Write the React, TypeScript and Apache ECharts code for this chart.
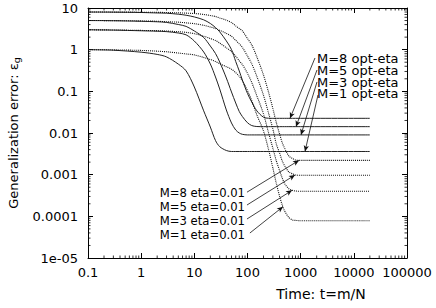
import React, { useEffect, useRef } from "react";
import * as echarts from "echarts";

// time grid shared by all curves (t = m/N)
const TIMES = [0.1, 0.3, 1, 2, 3, 5, 7, 10, 15, 20, 25, 30, 40, 50, 60, 70, 80, 100, 120, 150, 200, 250, 300, 350, 400, 450, 500, 600, 700, 800, 1000, 20000];

// optimal learning rate (solid)
const OPT_M1 = [1, 0.97, 0.87, 0.77, 0.67, 0.45, 0.31, 0.127, 0.034, 0.0139, 0.0066, 0.0047, 0.0038, 0.0036, 0.0036, 0.0036, 0.0036, 0.0036, 0.0036, 0.0036, 0.0036, 0.0036, 0.0036, 0.0036, 0.0036, 0.0036, 0.0036, 0.0036, 0.0036, 0.0036, 0.0036, 0.0036];
const OPT_M3 = [3, 2.95, 2.84, 2.77, 2.71, 2.51, 2.27, 1.61, 0.88, 0.453, 0.221, 0.114, 0.0357, 0.0174, 0.0118, 0.01, 0.0093, 0.009, 0.009, 0.009, 0.009, 0.009, 0.009, 0.009, 0.009, 0.009, 0.009, 0.009, 0.009, 0.009, 0.009, 0.009];
const OPT_M5 = [5, 4.95, 4.8, 4.67, 4.51, 4.02, 3.62, 2.81, 1.96, 1.22, 0.81, 0.506, 0.209, 0.0964, 0.0525, 0.0328, 0.0249, 0.0176, 0.0151, 0.0143, 0.0142, 0.0142, 0.0142, 0.0142, 0.0142, 0.0142, 0.0142, 0.0142, 0.0142, 0.0142, 0.0142, 0.0142];
const OPT_M8 = [8, 7.95, 7.8, 7.6, 7.5, 7.1, 6.7, 6.1, 5.2, 4.25, 3.4, 2.68, 1.62, 1.01, 0.52, 0.308, 0.187, 0.0887, 0.0555, 0.034, 0.0239, 0.0226, 0.0225, 0.0225, 0.0225, 0.0225, 0.0225, 0.0225, 0.0225, 0.0225, 0.0225, 0.0225];

// eta = 0.01 (dotted)
const ETA_M1 = [1, 0.99, 0.96, 0.92, 0.89, 0.83, 0.79, 0.75, 0.65, 0.58, 0.52, 0.46, 0.39, 0.34, 0.28, 0.23, 0.18, 0.104, 0.0603, 0.027, 0.0112, 0.0039, 0.00145, 0.0006, 0.000308, 0.000187, 0.000134, 0.0000938, 0.0000817, 0.00008, 0.0000785, 0.0000785];
const ETA_M3 = [3, 2.97, 2.9, 2.86, 2.8, 2.7, 2.6, 2.42, 2.1, 1.85, 1.66, 1.44, 1.11, 0.9, 0.7, 0.54, 0.44, 0.27, 0.164, 0.078, 0.0286, 0.0099, 0.0043, 0.0021, 0.00128, 0.00083, 0.00061, 0.00046, 0.00042, 0.000405, 0.0004, 0.0004];
const ETA_M5 = [5, 4.98, 4.9, 4.81, 4.68, 4.57, 4.4, 4.2, 3.85, 3.49, 3.23, 2.91, 2.46, 2.1, 1.68, 1.38, 1.14, 0.7, 0.46, 0.228, 0.08, 0.0294, 0.0124, 0.00535, 0.00335, 0.00214, 0.00164, 0.00116, 0.00105, 0.00098, 0.00097, 0.00097];
const ETA_M8 = [8, 7.98, 7.93, 7.87, 7.79, 7.66, 7.53, 7.37, 7.01, 6.6, 6.24, 5.78, 5.12, 4.48, 3.73, 3.21, 2.83, 1.85, 1.31, 0.667, 0.245, 0.0933, 0.0385, 0.0174, 0.0096, 0.00586, 0.0043, 0.0028, 0.00245, 0.00224, 0.0022, 0.0022];

// tick labels
const X_TICK_LABELS = ["0.1", "1", "10", "100", "1000", "10000", "100000"];
const Y_TICK_LABELS = ["1e-05", "0.0001", "0.001", "0.01", "0.1", "1", "10"];
const MINOR_STEPS = [2, 3, 4, 5, 6, 7, 8, 9];
const X_DECADES = [0.1, 1, 10, 100, 1000, 10000];
const Y_DECADES = [1e-5, 1e-4, 1e-3, 1e-2, 0.1, 1];

// annotations: labels and arrows (data coordinates)
const OPT_LABELS = ["M=8 opt-eta", "M=5 opt-eta", "M=3 opt-eta", "M=1 opt-eta"];
const OPT_ARROW_FROM = [[1858, 0.631], [2028, 0.325], [2028, 0.168], [2118, 0.0817]];
const OPT_ARROW_TO = [[630, 0.0225], [817, 0.0142], [1014, 0.009], [1206, 0.0036]];
const ETA_LABELS = ["M=8 eta=0.01", "M=5 eta=0.01", "M=3 eta=0.01", "M=1 eta=0.01"];
const ETA_ARROW_FROM = [[97.8, 0.00038], [97.8, 0.000187], [97.8, 0.0000863], [111, 0.0000398]];
const ETA_ARROW_TO = [[929, 0.0022], [782, 0.00098], [687, 0.00042], [465, 0.00017]];

const FONT = "DejaVu Sans";

export default function App() {
  const ref = useRef<HTMLDivElement>(null);

  useEffect(() => {
    if (!ref.current) return;
    const chart = echarts.init(ref.current, null, { renderer: "svg" });

    const pairs = (ys: number[]) => TIMES.map((t, i) => [t, ys[i]]);
    const xMinor = X_DECADES.flatMap((d) => MINOR_STEPS.map((k) => +(d * k).toPrecision(6)));
    const yMinor = Y_DECADES.flatMap((d) => MINOR_STEPS.map((k) => +(d * k).toPrecision(6)));

    const solid = { color: "#222", width: 1, type: "solid" as const };
    const dotted = { color: "#111", width: 1.1, type: [1, 1] as any };

    const arrowStyle = (from: number[][], to: number[][]) => ({
      silent: true,
      animation: false,
      symbol: ["none", "arrow"],
      symbolSize: [4, 6],
      label: { show: false },
      lineStyle: { color: "#111", width: 0.8, type: "solid" },
      emphasis: { disabled: true },
      data: from.map((f, i) => [{ coord: f }, { coord: to[i] }]),
    });

    const lineSeries = (name: string, ys: number[], style: any, extra: any = {}) => ({
      name,
      type: "line",
      data: pairs(ys),
      showSymbol: false,
      symbol: "none",
      smooth: 0.3,
      lineStyle: style,
      silent: true,
      z: 3,
      ...extra,
    });

    const minorSeries = (data: number[][], size: number[], offset: number[]) => ({
      type: "scatter",
      silent: true,
      clip: false,
      symbol: "rect",
      symbolSize: size,
      symbolOffset: offset,
      itemStyle: { color: "#000" },
      data,
      z: 5,
    });

    const axisCommon = {
      type: "log" as const,
      logBase: 10,
      splitLine: { show: false },
      axisLine: { show: true, lineStyle: { color: "#000", width: 1 } },
      axisTick: { show: true, inside: true, length: 5, lineStyle: { color: "#000", width: 1 } },
    };

    chart.setOption({
      animation: false,
      grid: { left: 88, right: 29, top: 8, bottom: 50, containLabel: false, outerBoundsMode: "none" },
      xAxis: [
        {
          ...axisCommon,
          position: "bottom",
          min: 0.1,
          max: 100000,
          axisLabel: {
            color: "#000",
            fontFamily: FONT,
            fontSize: 13,
            margin: 8,
            formatter: (v: number) => X_TICK_LABELS[Math.round(Math.log10(v)) + 1],
          },
          name: "Time: t=m/N",
          nameLocation: "middle",
          nameGap: 29,
          nameTextStyle: { color: "#000", fontFamily: FONT, fontSize: 14, padding: [0, 0, 0, 147] },
        },
        {
          ...axisCommon,
          position: "top",
          min: 0.1,
          max: 100000,
          axisLabel: { show: false },
        },
      ],
      yAxis: [
        {
          ...axisCommon,
          position: "left",
          min: 1e-5,
          max: 10,
          axisLabel: {
            color: "#000",
            fontFamily: FONT,
            fontSize: 13,
            margin: 10,
            formatter: (v: number) => Y_TICK_LABELS[Math.round(Math.log10(v)) + 5],
          },
          name: "{a|Generalization error: ε}{b|g}",
          nameLocation: "middle",
          nameGap: 52,
          nameRotate: 90,
          nameTextStyle: {
            color: "#000",
            fontFamily: FONT,
            fontSize: 13,
            rich: {
              a: { fontFamily: FONT, fontSize: 13, lineHeight: 16, color: "#000" },
              b: { fontFamily: FONT, fontSize: 9.5, lineHeight: 10, padding: [7, 0, 0, 0], color: "#000" },
            },
          },
        },
        {
          ...axisCommon,
          position: "right",
          min: 1e-5,
          max: 10,
          axisLabel: { show: false },
        },
      ],
      series: [
        lineSeries("M=1 opt-eta", OPT_M1, solid, { markLine: arrowStyle(OPT_ARROW_FROM, OPT_ARROW_TO) }),
        lineSeries("M=3 opt-eta", OPT_M3, solid),
        lineSeries("M=5 opt-eta", OPT_M5, solid),
        lineSeries("M=8 opt-eta", OPT_M8, solid),
        lineSeries("M=1 eta=0.01", ETA_M1, dotted, { markLine: arrowStyle(ETA_ARROW_FROM, ETA_ARROW_TO) }),
        lineSeries("M=3 eta=0.01", ETA_M3, dotted),
        lineSeries("M=5 eta=0.01", ETA_M5, dotted),
        lineSeries("M=8 eta=0.01", ETA_M8, dotted),
        minorSeries(xMinor.map((t) => [t, 1e-5]), [1, 2.5], [0, -1.25]),
        minorSeries(xMinor.map((t) => [t, 10]), [1, 2.5], [0, 1.25]),
        minorSeries(yMinor.map((v) => [0.1, v]), [2.5, 1], [1.25, 0]),
        minorSeries(yMinor.map((v) => [100000, v]), [2.5, 1], [-1.25, 0]),
      ],
      graphic: [
        ...OPT_LABELS.map((text, i) => ({
          type: "text",
          x: 317,
          y: [59, 71, 83, 94.5][i],
          scaleX: 1.13,
          silent: true,
          style: { text, fill: "#000", fontFamily: FONT, fontSize: 11.5, align: "left", verticalAlign: "middle" },
        })),
        ...ETA_LABELS.map((text, i) => ({
          type: "text",
          x: 245,
          y: [193, 207, 221, 235][i],
          scaleX: 0.93,
          silent: true,
          style: { text, fill: "#000", fontFamily: FONT, fontSize: 12.5, align: "right", verticalAlign: "middle" },
        })),
      ],
    });

    return () => chart.dispose();
  }, []);

  return <div ref={ref} style={{ width: 436, height: 308, position: "absolute", left: 0, top: 0 }} />;
}
